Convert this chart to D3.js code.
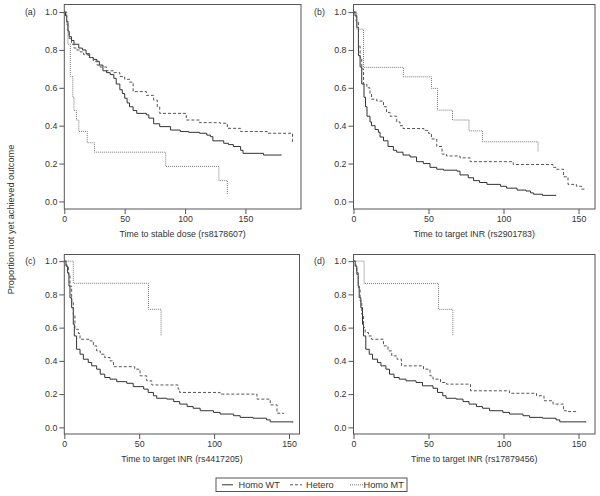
<!DOCTYPE html>
<html>
<head>
<meta charset="utf-8">
<script src="https://cdn.jsdelivr.net/npm/d3@7"></script>
<style>
  html, body { margin: 0; padding: 0; background: #fff; }
  svg { display: block; font-family: "Liberation Sans", Arial, Helvetica, sans-serif; }
</style>
</head>
<body>
<svg id="chart" width="600" height="496"></svg>
<script>
// ---------------- DATA ----------------
const panelLetters = ["(a)", "(b)", "(c)", "(d)"];
const panelTitles = [
  "Time to stable dose (rs8178607)",
  "Time to target INR (rs2901783)",
  "Time to target INR (rs4417205)",
  "Time to target INR (rs17879456)"
];
const seriesNames = ["Homo WT", "Hetero", "Homo MT"];
const yTicks = [0, 0.2, 0.4, 0.6, 0.8, 1.0];
const xTicks = [0, 50, 100, 150];
const yAxisTitle = "Proportion not yet achieved outcome";

// [time, proportion] pairs, Kaplan–Meier steps
const aWT = [[0,1],[1,0.98],[2,0.95],[3,0.9],[4,0.87],[6,0.85],[8,0.83],[12,0.81],[15,0.8],[18,0.78],[21,0.76],[24,0.75],[27,0.74],[29,0.72],[32,0.69],[35,0.68],[38,0.67],[41,0.65],[43,0.62],[46,0.59],[48,0.57],[50,0.545],[52,0.52],[54,0.5],[57,0.48],[60,0.465],[68,0.457],[70,0.44],[74,0.41],[79,0.395],[88,0.377],[96,0.369],[103,0.365],[112,0.36],[118,0.35],[121,0.342],[123,0.32],[132,0.307],[136,0.3],[140,0.29],[146,0.27],[148,0.254],[165,0.245],[180,0.245]];
const aHet = [[0,1],[2,0.95],[3,0.9],[4,0.86],[6,0.83],[8,0.81],[10,0.8],[13,0.79],[16,0.775],[20,0.76],[24,0.74],[27,0.72],[29.5,0.71],[35,0.69],[40.6,0.68],[46,0.66],[50,0.645],[54,0.63],[57,0.58],[68,0.56],[74,0.535],[77,0.5],[79,0.465],[101,0.43],[112,0.416],[129,0.413],[135,0.386],[146,0.369],[168,0.36],[188,0.36],[189,0.307]];
const aMT = [[0,1],[2,0.93],[3,0.83],[5,0.66],[7,0.55],[8,0.48],[10,0.43],[12,0.37],[19,0.31],[25,0.26],[84,0.185],[128,0.11],[135,0.04]];

const bWT = [[0,1],[1,0.98],[2.2,0.92],[3.3,0.77],[4.4,0.71],[5.5,0.62],[7,0.55],[8,0.5],[9,0.45],[11,0.42],[12,0.4],[14.4,0.38],[16.6,0.365],[17.7,0.34],[20,0.32],[23,0.29],[26.6,0.27],[28.8,0.26],[33,0.245],[37.7,0.235],[42,0.21],[46.6,0.2],[51,0.18],[55.5,0.17],[60,0.165],[69,0.16],[71,0.14],[76.5,0.125],[80,0.11],[84,0.1],[89,0.09],[98,0.08],[102,0.07],[109,0.06],[115,0.055],[118,0.045],[120,0.038],[126,0.032],[135,0.03]];
const bHet = [[0,1],[1.8,0.95],[3.3,0.82],[4.4,0.76],[5.5,0.7],[6.7,0.62],[8.9,0.6],[11,0.57],[12,0.54],[15.5,0.53],[20,0.5],[22,0.47],[24.4,0.45],[28.8,0.42],[31,0.4],[33,0.385],[47,0.375],[50,0.36],[52,0.33],[55.5,0.29],[59,0.25],[62,0.24],[71,0.23],[77.7,0.21],[106.5,0.195],[133,0.18],[135.3,0.17],[140,0.13],[143,0.09],[148.6,0.08],[152,0.065],[155,0.065]];
const bMT = [[0,1],[2.2,0.91],[6.7,0.708],[33.3,0.658],[52,0.597],[56,0.482],[66,0.43],[77,0.373],[86,0.315],[123,0.262]];

const cWT = [[0,1],[1.1,0.97],[2.2,0.93],[3.1,0.85],[3.8,0.78],[4.9,0.72],[6,0.62],[6.7,0.55],[8.2,0.47],[10.5,0.44],[12.7,0.41],[16,0.39],[18.3,0.37],[21.6,0.35],[24,0.32],[27,0.3],[30.5,0.29],[35,0.275],[41.7,0.265],[46,0.245],[53,0.23],[56,0.21],[59.5,0.19],[61.7,0.175],[68.4,0.17],[73,0.155],[77,0.14],[82,0.125],[86,0.115],[90.7,0.1],[99.6,0.09],[104,0.08],[113,0.07],[117.4,0.06],[126,0.055],[135,0.045],[137.5,0.033],[152.7,0.03]];
const cHet = [[0,1],[1.6,0.97],[2.7,0.92],[3.8,0.85],[4.9,0.76],[6,0.68],[7.1,0.59],[9.4,0.565],[10.5,0.53],[17.2,0.52],[19.4,0.49],[21.6,0.46],[24,0.44],[27,0.42],[30.5,0.4],[32.8,0.365],[47,0.35],[50.6,0.31],[55,0.28],[58.4,0.255],[76,0.23],[77,0.21],[104,0.2],[128.6,0.17],[137.5,0.135],[142,0.085],[146.4,0.08]];
const cMT = [[0,1],[6,0.867],[56.2,0.71],[64.6,0.55]];

const dWT = [[0,1],[1.1,0.97],[2.2,0.93],[3.1,0.85],[3.8,0.78],[4.9,0.72],[6,0.62],[6.7,0.55],[8.2,0.47],[10.5,0.44],[12.7,0.41],[16,0.39],[18.3,0.37],[21.6,0.35],[24,0.32],[27,0.3],[30.5,0.29],[35,0.28],[41.7,0.27],[46,0.25],[53,0.235],[56,0.21],[59.5,0.19],[61.7,0.175],[68.4,0.17],[73,0.155],[77,0.14],[82,0.125],[86,0.115],[90.7,0.1],[99.6,0.09],[104,0.08],[113,0.07],[117.4,0.06],[126,0.055],[135,0.045],[137.5,0.033],[155,0.03]];
const dHet = [[0,1],[1.5,0.97],[2.2,0.92],[3.3,0.84],[4.4,0.76],[5.5,0.68],[6.7,0.6],[7.8,0.57],[10,0.55],[12,0.53],[20,0.49],[23,0.46],[25.5,0.43],[29,0.41],[32,0.37],[46.7,0.35],[51,0.31],[53,0.29],[58,0.27],[62,0.26],[78,0.22],[104,0.205],[122,0.19],[127,0.16],[133,0.14],[140,0.1],[142,0.095],[149,0.095]];
const dMT = [[0,1],[7.1,0.865],[56.7,0.71],[66.2,0.55]];

const xMax = [196, 161, 157, 161];

// ---------------- LAYOUT / STYLE ----------------
const panels = [
  { box: {x0: 64.3, x1: 301, y0: 4.5, y1: 209}, series: [aWT, aHet, aMT] },
  { box: {x0: 353.5, x1: 595, y0: 4.5, y1: 209}, series: [bWT, bHet, bMT] },
  { box: {x0: 64.3, x1: 299.5, y0: 254.5, y1: 434}, series: [cWT, cHet, cMT] },
  { box: {x0: 353.5, x1: 595, y0: 254.5, y1: 434}, series: [dWT, dHet, dMT] }
];
const styles = [
  { stroke: "#333", dash: null, width: 1 },
  { stroke: "#555", dash: "3,2", width: 1 },
  { stroke: "#777", dash: "1,1", width: 1 }
];
const textColor = "#333";
const fs = 8.8;

const svg = d3.select("#chart");

panels.forEach((p, i) => {
  const b = p.box;
  const x = d3.scaleLinear().domain([0, xMax[i]]).range([b.x0, b.x1]);
  const y = d3.scaleLinear().domain([-0.04, 1.04]).range([b.y1, b.y0]);
  const g = svg.append("g");

  // y axis
  const ya = g.append("g").attr("transform", `translate(${b.x0},0)`)
    .call(d3.axisLeft(y).tickValues(yTicks).tickFormat(d3.format(".1f")).tickSize(5).tickPadding(2));
  ya.select(".domain").remove();
  ya.selectAll("line").attr("stroke", "#555");
  ya.selectAll("text").attr("fill", textColor).style("font-size", fs + "px")
    .style("font-family", '"Liberation Sans", Arial, sans-serif');

  // x axis
  const xa = g.append("g").attr("transform", `translate(0,${b.y1})`)
    .call(d3.axisBottom(x).tickValues(xTicks).tickFormat(d3.format("d")).tickSize(5).tickPadding(2));
  xa.select(".domain").remove();
  xa.selectAll("line").attr("stroke", "#555");
  xa.selectAll("text").attr("fill", textColor).style("font-size", fs + "px")
    .style("font-family", '"Liberation Sans", Arial, sans-serif');

  // box
  g.append("rect")
    .attr("x", b.x0).attr("y", b.y0)
    .attr("width", b.x1 - b.x0).attr("height", b.y1 - b.y0)
    .attr("fill", "none").attr("stroke", "#555").attr("stroke-width", 1);

  // curves
  const line = d3.line().x(d => x(d[0])).y(d => y(d[1])).curve(d3.curveStepAfter);
  p.series.forEach((s, k) => {
    const st = styles[k];
    const path = g.append("path").datum(s)
      .attr("d", line)
      .attr("fill", "none")
      .attr("stroke", st.stroke)
      .attr("stroke-width", st.width);
    if (st.dash) path.attr("stroke-dasharray", st.dash);
  });

  // panel letter
  g.append("text")
    .attr("x", b.x0 - 34).attr("y", y(1.0))
    .attr("dy", "0.35em").attr("text-anchor", "middle")
    .attr("fill", textColor).style("font-size", fs + "px")
    .text(panelLetters[i]);

  // x title
  g.append("text")
    .attr("x", (b.x0 + b.x1) / 2).attr("y", b.y1 + 25)
    .attr("dy", "0.35em").attr("text-anchor", "middle")
    .attr("fill", textColor).style("font-size", fs + "px")
    .text(panelTitles[i]);
});

// shared y title
svg.append("text")
  .attr("transform", "translate(11,219.5) rotate(-90)")
  .attr("text-anchor", "middle").attr("dy", "0.35em")
  .attr("fill", textColor).style("font-size", "9.2px")
  .text(yAxisTitle);

// legend
const lg = svg.append("g");
lg.append("rect").attr("x", 216).attr("y", 478).attr("width", 191).attr("height", 13.5)
  .attr("fill", "#fff").attr("stroke", "#555").attr("stroke-width", 1);
const legendItems = [
  { lx0: 222, lx1: 233, tx: 238.5 },
  { lx0: 290, lx1: 302, tx: 306 },
  { lx0: 350, lx1: 363, tx: 363.5 }
];
seriesNames.forEach((name, k) => {
  const it = legendItems[k];
  const st = styles[k];
  const l = lg.append("line").attr("x1", it.lx0).attr("x2", it.lx1)
    .attr("y1", 484.8).attr("y2", 484.8)
    .attr("stroke", st.stroke).attr("stroke-width", 1);
  if (st.dash) l.attr("stroke-dasharray", st.dash);
  lg.append("text").attr("x", it.tx).attr("y", 484.8).attr("dy", "0.35em")
    .attr("fill", textColor).style("font-size", "9.2px").text(name);
});
</script>
</body>
</html>
